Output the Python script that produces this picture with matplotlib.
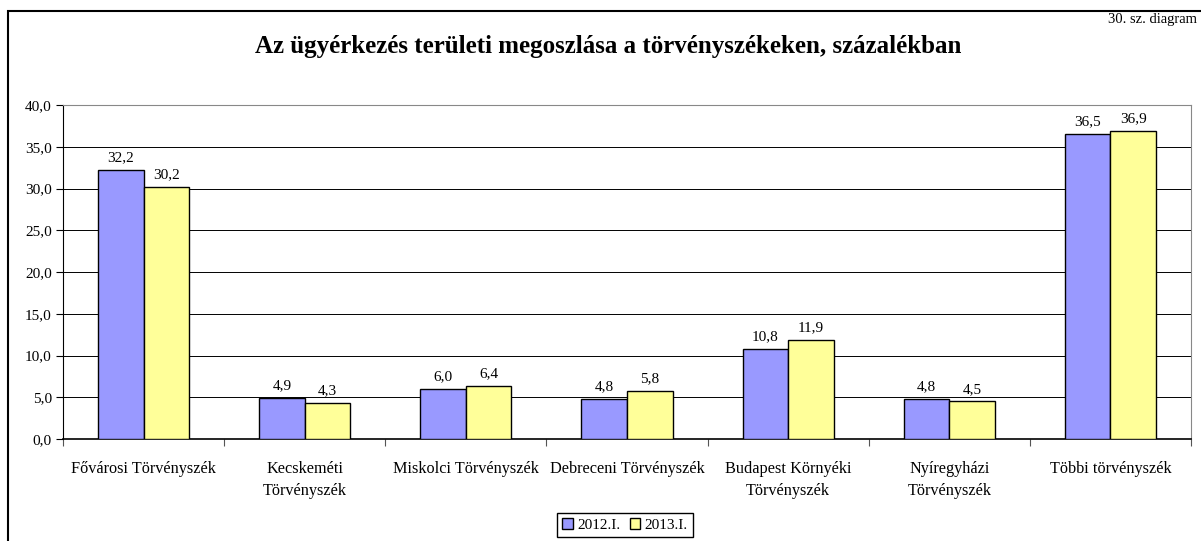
import matplotlib.pyplot as plt
import matplotlib.patches as patches
import numpy as np

plt.rcParams['font.family'] = ['Liberation Serif', 'DejaVu Serif']

categories = ['Fővárosi Törvényszék', 'Kecskeméti\nTörvényszék', 'Miskolci Törvényszék',
              'Debreceni Törvényszék', 'Budapest Környéki\nTörvényszék', 'Nyíregyházi\nTörvényszék',
              'Többi törvényszék']
values_2012 = [32.2, 4.9, 6.0, 4.8, 10.8, 4.8, 36.5]
values_2013 = [30.2, 4.3, 6.4, 5.8, 11.9, 4.5, 36.9]
series_labels = ['2012.I.', '2013.I.']
yticks = [0, 5, 10, 15, 20, 25, 30, 35, 40]

W, H = 1201, 541
fig = plt.figure(figsize=(W / 100, H / 100), dpi=100)
ax = fig.add_axes([63 / W, 1 - 439 / H, (1191 - 63) / W, (439 - 105) / H])

x = np.arange(len(categories))
bw = 0.283
b1 = ax.bar(x - bw / 2, values_2012, bw, color='#9999FF', edgecolor='black', linewidth=1, zorder=3)
b2 = ax.bar(x + bw / 2, values_2013, bw, color='#FFFF99', edgecolor='black', linewidth=1, zorder=3)

for bars, vals in [(b1, values_2012), (b2, values_2013)]:
    for rect, v in zip(bars, vals):
        ax.annotate(f'{v:.1f}'.replace('.', ','), (rect.get_x() + rect.get_width() / 2, v),
                    xytext=(0, 4), textcoords='offset points', ha='center', va='bottom', fontsize=11)

ax.set_xlim(-0.5, len(categories) - 0.5)
ax.set_ylim(0, 40)
ax.set_yticks(yticks)
ax.set_yticklabels([f'{t:.1f}'.replace('.', ',') for t in yticks], fontsize=11)
ax.yaxis.grid(True, color='black', linewidth=0.7, zorder=0)

# category labels centered, ticks on the boundaries
ax.set_xticks(np.arange(len(categories) + 1) - 0.5)
ax.set_xticklabels([])
ax.set_xticks(x, minor=True)
ax.set_xticklabels(categories, minor=True, fontsize=11.7, linespacing=1.45)
ax.tick_params(axis='x', which='minor', length=0, pad=16)
ax.tick_params(axis='x', which='major', length=5, color='#555555')
ax.tick_params(axis='y', length=5, pad=3)

for s in ['top', 'right']:
    ax.spines[s].set_color('#888888')
ax.spines['left'].set_color('black')
ax.spines['bottom'].set_color('black')
ax.spines['bottom'].set_linewidth(1.2)

fig.text(608 / W, 1 - 47 / H, 'Az ügyérkezés területi megoszlása a törvényszékeken, százalékban',
         ha='center', va='center', fontsize=18, fontweight='bold')
fig.text(1197 / W, 1 - 20 / H, '30. sz. diagram', ha='right', va='center', fontsize=10.5)

# outer frame
fig.add_artist(patches.Rectangle((8 / W, -0.1), 1.2, 1 - 11 / H + 0.1, transform=fig.transFigure,
                                 fill=False, edgecolor='black', linewidth=1.5))

handles = [patches.Patch(facecolor='#9999FF', edgecolor='black', label=series_labels[0]),
           patches.Patch(facecolor='#FFFF99', edgecolor='black', label=series_labels[1])]
fig.legend(handles=handles, loc='upper center', bbox_to_anchor=(625 / W, 1 - 513 / H), ncol=2,
           fontsize=11, frameon=True, fancybox=False, edgecolor='black', framealpha=1,
           handlelength=0.7, handleheight=0.7, handletextpad=0.3, columnspacing=0.6,
           borderpad=0.35, borderaxespad=0)

fig.savefig('out.png', dpi=100, facecolor='white')
